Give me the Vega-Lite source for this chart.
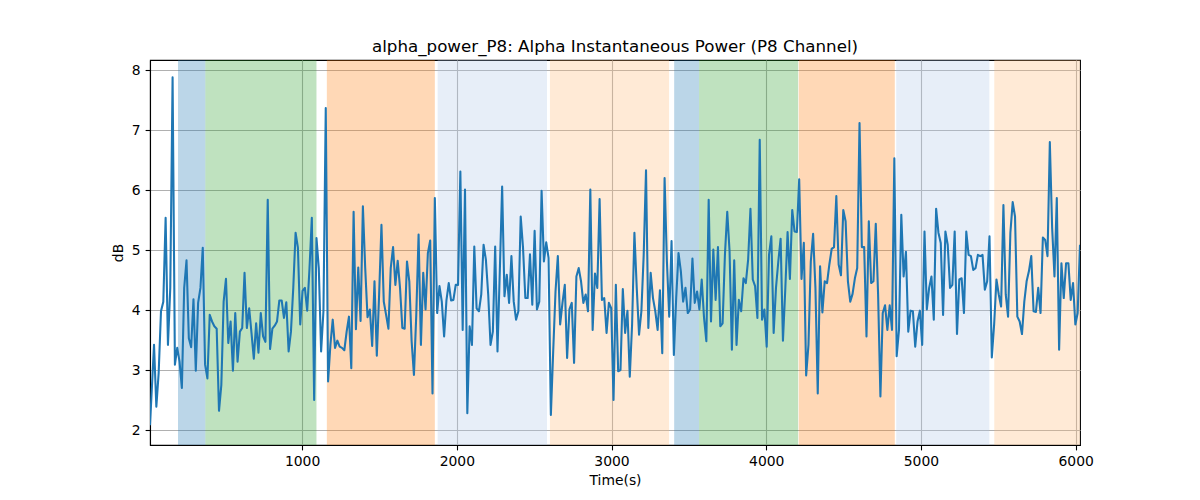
{
"$schema": "https://vega.github.io/schema/vega-lite/v6.json",
"width": 930,
"height": 385,
"autosize": "none",
"padding": {"left": 150, "top": 60, "right": 120, "bottom": 55},
"background": "white",
"title": {"text": "alpha_power_P8: Alpha Instantaneous Power (P8 Channel)", "font": "DejaVu Sans", "fontSize": 16.7, "fontWeight": "normal", "color": "black", "baseline": "alphabetic", "offset": -9, "anchor": "middle"},
"config": {
 "view": {"stroke": "black", "strokeWidth": 1.1},
 "axis": {"labelFont": "DejaVu Sans", "labelFontSize": 13.9, "labelColor": "black", "titleFont": "DejaVu Sans", "titleFontSize": 13.9, "titleFontWeight": "normal", "titleColor": "black", "domainColor": "black", "domainWidth": 1.1, "tickColor": "black", "tickSize": 4.9, "tickWidth": 1.1, "gridColor": "#b0b0b0", "gridWidth": 1.1, "gridOpacity": 1, "labelPadding": 4.9, "labelFlush": false, "labelOverlap": false}
},
"datasets": {
 "spans": [
  {"start": 198, "end": 375, "phase": "phase 1"},
  {"start": 375, "end": 1093, "phase": "phase 2"},
  {"start": 1160, "end": 1858, "phase": "phase 3"},
  {"start": 1876, "end": 2583, "phase": "phase 4"},
  {"start": 2602, "end": 3372, "phase": "phase 5"},
  {"start": 3405, "end": 3566, "phase": "phase 1"},
  {"start": 3566, "end": 4206, "phase": "phase 2"},
  {"start": 4210, "end": 4831, "phase": "phase 3"},
  {"start": 4840, "end": 5442, "phase": "phase 4"},
  {"start": 5474, "end": 6028, "phase": "phase 5"}
 ],
 "series": [
{"t":17,"v":2.08},
{"t":43,"v":3.42},{"t":58,"v":2.39},{"t":73,"v":2.95},{"t":88,"v":3.98},{"t":103,"v":4.14},{"t":118,"v":5.54},{"t":133,"v":3.42},{"t":148,"v":4.37},{"t":163,"v":7.88},{"t":178,"v":3.09},
{"t":193,"v":3.37},{"t":208,"v":3.14},{"t":223,"v":2.70},{"t":238,"v":4.37},{"t":253,"v":4.83},{"t":268,"v":3.53},{"t":283,"v":3.38},{"t":298,"v":4.18},{"t":313,"v":2.99},{"t":328,"v":4.12},
{"t":343,"v":4.37},{"t":358,"v":5.04},{"t":373,"v":3.09},{"t":388,"v":2.86},{"t":403,"v":3.92},{"t":418,"v":3.81},{"t":433,"v":3.73},{"t":448,"v":3.69},{"t":463,"v":2.32},{"t":478,"v":2.75},
{"t":493,"v":4.14},{"t":508,"v":4.52},{"t":523,"v":3.45},{"t":538,"v":3.81},{"t":553,"v":2.99},{"t":568,"v":3.95},{"t":583,"v":3.14},{"t":598,"v":3.64},{"t":613,"v":3.70},{"t":628,"v":4.62},
{"t":643,"v":3.70},{"t":658,"v":4.03},{"t":673,"v":3.62},{"t":688,"v":3.19},{"t":703,"v":3.78},{"t":718,"v":3.29},{"t":733,"v":3.95},{"t":748,"v":3.56},{"t":763,"v":3.47},{"t":778,"v":5.84},
{"t":793,"v":3.35},{"t":808,"v":3.69},{"t":823,"v":3.74},{"t":838,"v":3.81},{"t":853,"v":4.16},{"t":868,"v":4.16},{"t":883,"v":3.87},{"t":898,"v":4.13},{"t":913,"v":3.31},{"t":928,"v":3.64},
{"t":943,"v":4.37},{"t":958,"v":5.29},{"t":973,"v":5.04},{"t":988,"v":3.76},{"t":1003,"v":4.32},{"t":1018,"v":4.37},{"t":1033,"v":3.99},{"t":1048,"v":4.70},{"t":1063,"v":5.54},{"t":1078,"v":2.50},
{"t":1093,"v":5.20},{"t":1108,"v":4.70},{"t":1123,"v":3.31},{"t":1138,"v":3.98},{"t":1153,"v":7.37},{"t":1168,"v":2.81},{"t":1183,"v":3.42},{"t":1198,"v":3.84},{"t":1213,"v":3.37},{"t":1228,"v":3.49},
{"t":1243,"v":3.39},{"t":1258,"v":3.37},{"t":1273,"v":3.33},{"t":1288,"v":3.64},{"t":1303,"v":3.89},{"t":1318,"v":3.03},{"t":1333,"v":5.64},{"t":1348,"v":3.68},{"t":1363,"v":4.71},{"t":1378,"v":3.82},
{"t":1393,"v":5.73},{"t":1408,"v":4.70},{"t":1423,"v":3.88},{"t":1438,"v":4.01},{"t":1453,"v":3.40},{"t":1468,"v":4.48},{"t":1483,"v":3.24},{"t":1498,"v":4.26},{"t":1513,"v":5.42},{"t":1528,"v":4.14},
{"t":1543,"v":3.92},{"t":1558,"v":3.69},{"t":1573,"v":4.70},{"t":1588,"v":5.05},{"t":1603,"v":4.42},{"t":1618,"v":4.82},{"t":1633,"v":4.37},{"t":1648,"v":3.70},{"t":1663,"v":3.69},{"t":1678,"v":4.81},
{"t":1693,"v":4.48},{"t":1708,"v":3.48},{"t":1723,"v":2.92},{"t":1738,"v":3.92},{"t":1753,"v":5.26},{"t":1768,"v":3.42},{"t":1783,"v":4.62},{"t":1798,"v":4.01},{"t":1813,"v":4.95},{"t":1828,"v":5.16},
{"t":1843,"v":2.61},{"t":1858,"v":5.87},{"t":1873,"v":3.95},{"t":1888,"v":4.40},{"t":1903,"v":4.14},{"t":1918,"v":3.56},{"t":1933,"v":4.16},{"t":1948,"v":4.45},{"t":1963,"v":4.16},{"t":1978,"v":4.17},
{"t":1993,"v":4.42},{"t":2008,"v":4.42},{"t":2023,"v":6.31},{"t":2038,"v":3.67},{"t":2053,"v":6.01},{"t":2068,"v":2.28},{"t":2083,"v":3.73},{"t":2098,"v":3.42},{"t":2113,"v":5.06},{"t":2128,"v":4.03},
{"t":2143,"v":3.98},{"t":2158,"v":4.26},{"t":2173,"v":5.09},{"t":2188,"v":4.84},{"t":2203,"v":4.26},{"t":2218,"v":3.42},{"t":2233,"v":3.64},{"t":2248,"v":5.06},{"t":2263,"v":3.31},{"t":2278,"v":4.65},
{"t":2293,"v":6.06},{"t":2308,"v":4.23},{"t":2323,"v":4.59},{"t":2338,"v":4.12},{"t":2353,"v":4.90},{"t":2368,"v":4.14},{"t":2383,"v":3.84},{"t":2398,"v":3.98},{"t":2413,"v":5.56},{"t":2428,"v":5.04},
{"t":2443,"v":4.20},{"t":2458,"v":4.20},{"t":2473,"v":4.93},{"t":2488,"v":4.09},{"t":2503,"v":5.32},{"t":2518,"v":4.01},{"t":2533,"v":4.14},{"t":2548,"v":5.99},{"t":2563,"v":4.81},{"t":2578,"v":5.13},
{"t":2593,"v":4.87},{"t":2608,"v":2.25},{"t":2623,"v":3.31},{"t":2638,"v":4.31},{"t":2653,"v":4.90},{"t":2668,"v":3.76},{"t":2683,"v":4.12},{"t":2698,"v":4.42},{"t":2713,"v":3.20},{"t":2728,"v":4.01},
{"t":2743,"v":4.12},{"t":2758,"v":3.12},{"t":2773,"v":4.56},{"t":2788,"v":4.70},{"t":2803,"v":4.48},{"t":2818,"v":4.12},{"t":2833,"v":4.26},{"t":2848,"v":3.98},{"t":2863,"v":6.01},{"t":2878,"v":3.67},
{"t":2893,"v":4.61},{"t":2908,"v":4.37},{"t":2923,"v":5.85},{"t":2938,"v":4.17},{"t":2953,"v":4.20},{"t":2968,"v":3.62},{"t":2983,"v":4.12},{"t":2998,"v":4.03},{"t":3013,"v":2.50},{"t":3028,"v":4.42},
{"t":3043,"v":2.98},{"t":3058,"v":3.00},{"t":3073,"v":4.35},{"t":3088,"v":3.62},{"t":3103,"v":3.99},{"t":3118,"v":2.89},{"t":3133,"v":3.76},{"t":3148,"v":5.29},{"t":3163,"v":4.37},{"t":3178,"v":3.59},
{"t":3193,"v":3.98},{"t":3208,"v":4.92},{"t":3223,"v":6.33},{"t":3238,"v":3.70},{"t":3253,"v":4.62},{"t":3268,"v":4.20},{"t":3283,"v":3.98},{"t":3298,"v":3.67},{"t":3313,"v":4.33},{"t":3328,"v":3.28},
{"t":3343,"v":6.20},{"t":3358,"v":4.81},{"t":3373,"v":3.89},{"t":3388,"v":5.15},{"t":3403,"v":3.25},{"t":3418,"v":4.20},{"t":3433,"v":4.95},{"t":3448,"v":4.65},{"t":3463,"v":4.14},{"t":3478,"v":4.37},
{"t":3493,"v":3.95},{"t":3508,"v":4.01},{"t":3523,"v":4.86},{"t":3538,"v":4.12},{"t":3553,"v":4.31},{"t":3568,"v":4.01},{"t":3583,"v":4.51},{"t":3598,"v":3.87},{"t":3613,"v":3.48},{"t":3628,"v":5.84},
{"t":3643,"v":3.81},{"t":3658,"v":5.01},{"t":3673,"v":4.17},{"t":3688,"v":5.05},{"t":3703,"v":3.73},{"t":3718,"v":3.78},{"t":3733,"v":4.92},{"t":3748,"v":5.64},{"t":3763,"v":4.98},{"t":3778,"v":3.34},
{"t":3793,"v":4.83},{"t":3808,"v":3.42},{"t":3823,"v":4.17},{"t":3838,"v":3.98},{"t":3853,"v":4.53},{"t":3868,"v":4.45},{"t":3883,"v":4.84},{"t":3898,"v":5.69},{"t":3913,"v":4.51},{"t":3928,"v":4.40},
{"t":3943,"v":3.87},{"t":3958,"v":6.84},{"t":3973,"v":3.84},{"t":3988,"v":4.01},{"t":4003,"v":3.39},{"t":4018,"v":4.92},{"t":4033,"v":5.23},{"t":4048,"v":3.62},{"t":4063,"v":4.37},{"t":4078,"v":4.81},
{"t":4093,"v":5.19},{"t":4108,"v":3.49},{"t":4123,"v":4.34},{"t":4138,"v":5.30},{"t":4153,"v":4.52},{"t":4168,"v":5.67},{"t":4183,"v":5.31},{"t":4198,"v":5.30},{"t":4213,"v":6.18},{"t":4228,"v":4.52},
{"t":4243,"v":5.12},{"t":4258,"v":2.91},{"t":4273,"v":3.42},{"t":4288,"v":4.81},{"t":4303,"v":5.27},{"t":4318,"v":4.37},{"t":4333,"v":2.61},{"t":4348,"v":4.73},{"t":4363,"v":3.96},{"t":4378,"v":4.48},
{"t":4393,"v":4.45},{"t":4408,"v":4.76},{"t":4423,"v":5.02},{"t":4438,"v":5.05},{"t":4453,"v":5.90},{"t":4468,"v":4.76},{"t":4483,"v":4.58},{"t":4498,"v":5.67},{"t":4513,"v":5.48},{"t":4528,"v":4.48},
{"t":4543,"v":4.14},{"t":4558,"v":4.27},{"t":4573,"v":4.53},{"t":4588,"v":4.70},{"t":4603,"v":7.12},{"t":4618,"v":5.05},{"t":4633,"v":5.05},{"t":4648,"v":3.56},{"t":4663,"v":5.48},{"t":4678,"v":4.45},
{"t":4693,"v":4.48},{"t":4708,"v":5.44},{"t":4723,"v":4.26},{"t":4738,"v":2.56},{"t":4753,"v":3.95},{"t":4768,"v":4.08},{"t":4783,"v":3.67},{"t":4798,"v":4.08},{"t":4813,"v":3.67},{"t":4828,"v":6.53},
{"t":4843,"v":3.23},{"t":4858,"v":3.67},{"t":4873,"v":5.59},{"t":4888,"v":4.56},{"t":4903,"v":4.97},{"t":4918,"v":3.64},{"t":4933,"v":3.99},{"t":4948,"v":3.98},{"t":4963,"v":3.39},{"t":4978,"v":3.81},
{"t":4993,"v":3.99},{"t":5008,"v":3.42},{"t":5023,"v":5.31},{"t":5038,"v":4.01},{"t":5053,"v":4.37},{"t":5068,"v":4.56},{"t":5083,"v":3.84},{"t":5098,"v":5.69},{"t":5113,"v":5.29},{"t":5128,"v":5.12},
{"t":5143,"v":3.92},{"t":5158,"v":5.31},{"t":5173,"v":5.09},{"t":5188,"v":4.37},{"t":5203,"v":4.42},{"t":5218,"v":5.31},{"t":5233,"v":3.60},{"t":5248,"v":4.51},{"t":5263,"v":4.53},{"t":5278,"v":3.95},
{"t":5293,"v":5.31},{"t":5308,"v":4.92},{"t":5323,"v":4.90},{"t":5338,"v":4.67},{"t":5353,"v":4.70},{"t":5368,"v":4.92},{"t":5383,"v":4.90},{"t":5398,"v":4.92},{"t":5413,"v":4.34},{"t":5428,"v":4.48},
{"t":5443,"v":5.23},{"t":5458,"v":3.21},{"t":5473,"v":3.76},{"t":5488,"v":4.51},{"t":5503,"v":4.26},{"t":5518,"v":4.06},{"t":5533,"v":5.75},{"t":5548,"v":4.26},{"t":5563,"v":3.89},{"t":5578,"v":5.29},
{"t":5593,"v":5.80},{"t":5608,"v":5.56},{"t":5623,"v":3.89},{"t":5638,"v":3.81},{"t":5653,"v":3.60},{"t":5668,"v":4.14},{"t":5683,"v":4.48},{"t":5698,"v":4.65},{"t":5713,"v":4.90},{"t":5728,"v":3.98},
{"t":5743,"v":3.97},{"t":5758,"v":4.37},{"t":5773,"v":3.95},{"t":5788,"v":5.21},{"t":5803,"v":5.17},{"t":5818,"v":4.90},{"t":5833,"v":6.80},{"t":5848,"v":5.37},{"t":5863,"v":4.56},{"t":5878,"v":5.87},
{"t":5893,"v":3.34},{"t":5908,"v":4.78},{"t":5923,"v":4.20},{"t":5938,"v":4.78},{"t":5953,"v":4.78},{"t":5968,"v":4.17},{"t":5983,"v":4.45},{"t":5998,"v":3.76},{"t":6013,"v":3.95},{"t":6028,"v":5.09}
 ]
},
"layer": [
 {
  "data": {"name": "spans"},
  "mark": {"type": "rect"},
  "encoding": {
   "x": {"field": "start", "type": "quantitative", "title": "Time(s)", "scale": {"domain": [17, 6028], "nice": false, "zero": false}, "axis": {"values": [1000, 2000, 3000, 4000, 5000, 6000], "format": "d", "titlePadding": 5}},
   "x2": {"field": "end"},
   "color": {"field": "phase", "type": "nominal", "legend": null, "scale": {"domain": ["phase 1", "phase 2", "phase 3", "phase 4", "phase 5"], "range": ["#1f77b4", "#2ca02c", "#ff7f0e", "#aec7e8", "#ffbb78"]}},
   "opacity": {"field": "phase", "type": "nominal", "legend": null, "scale": {"domain": ["phase 1", "phase 2", "phase 3", "phase 4", "phase 5"], "range": [0.3, 0.3, 0.3, 0.32, 0.33]}}
  }
 },
 {
  "data": {"name": "series"},
  "mark": {"type": "line", "color": "#1f77b4", "strokeWidth": 2.08, "strokeJoin": "round", "clip": true},
  "encoding": {
   "x": {"field": "t", "type": "quantitative", "title": "Time(s)"},
   "y": {"field": "v", "type": "quantitative", "title": "dB", "scale": {"domain": [1.75, 8.17], "nice": false, "zero": false}, "axis": {"values": [2, 3, 4, 5, 6, 7, 8], "titlePadding": 6}}
  }
 }
]
}
